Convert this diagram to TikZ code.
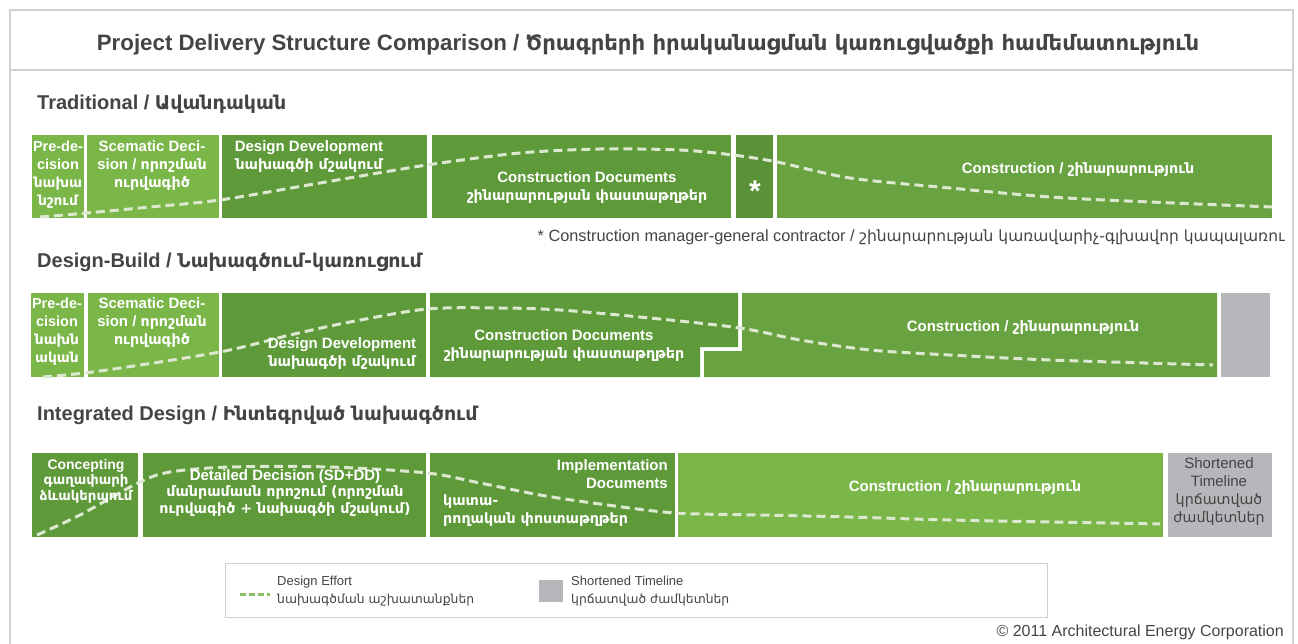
\documentclass[tikz,border=0pt]{standalone}
\usepackage{fontspec}
\setmainfont{Liberation Sans}
\newfontfamily\armfont[Scale=0.95]{DejaVu Sans}
\newcommand{\hy}[1]{{\armfont #1}}

\definecolor{lightgrn}{HTML}{7AB648}
\definecolor{darkgrn}{HTML}{5E9A3A}
\definecolor{midgrn}{HTML}{69A341}
\definecolor{stargrn}{HTML}{5A9238}
\definecolor{shortgray}{HTML}{B6B7BA}
\definecolor{headgray}{HTML}{444444}
\definecolor{framegray}{HTML}{D0D0D0}
\definecolor{effortwhite}{HTML}{DCE8CF}
\definecolor{legendgrn}{HTML}{8DC063}

\tikzset{
  bartext/.style={text=white, font=\bfseries\fontsize{15}{18}\selectfont, align=center, inner sep=0pt},
  heading/.style={anchor=west, text=headgray, font=\bfseries\fontsize{20}{24}\selectfont, inner sep=0pt},
  effortline/.style={effortwhite, line width=3pt, dash pattern=on 9pt off 5pt},
  smalltext/.style={text=headgray, font=\fontsize{13}{18}\selectfont, align=left, inner sep=0pt},
}

\begin{document}
\begin{tikzpicture}[x=1pt,y=-1pt]
    \useasboundingbox (0,0) rectangle (1298,644);

    % Frame and title
    \draw[framegray, line width=1.5pt] (10,644) -- (10,10) -- (1293,10) -- (1293,644);
    \draw[framegray, line width=2pt] (10,70) -- (1293,70);
    \node[text=headgray, font=\bfseries\fontsize{22.3}{24}\selectfont] (title) at (648,45)
        {Project Delivery Structure Comparison / \hy{Ծրագրերի իրականացման կառուցվածքի համեմատություն}};

    % Row headings
    \node[heading] (htrad) at (37,104) {Traditional / \hy{Ավանդական}};
    \node[heading] (hdb) at (37,262) {Design-Build / \hy{Նախագծում-կառուցում}};
    \node[heading] (hint) at (37,415) {Integrated Design / \hy{Ինտեգրված նախագծում}};

    % Traditional bars
    \foreach \xa/\xb/\col in {32/84/lightgrn, 87/219/lightgrn, 222/427/darkgrn, 432/731/darkgrn, 736/773/stargrn, 777/1272/midgrn}
        \fill[\col] (\xa,135) rectangle (\xb,218);

    % Design-Build bars
    \foreach \xa/\xb/\col in {31/84/lightgrn, 88/219/lightgrn, 222/426/darkgrn, 1221/1270/shortgray}
        \fill[\col] (\xa,293) rectangle (\xb,377);
    \fill[darkgrn] (430,293) -- (738,293) -- (738,347) -- (700,347) -- (700,377) -- (430,377) -- cycle;
    \fill[midgrn] (742,293) -- (1217,293) -- (1217,377) -- (704,377) -- (704,351) -- (742,351) -- cycle;

    % Integrated bars
    \foreach \xa/\xb/\col in {32/138/darkgrn, 143/426/darkgrn, 430/675/darkgrn, 678/1163/lightgrn, 1168/1272/shortgray}
        \fill[\col] (\xa,453) rectangle (\xb,537);

    % Design effort curves
    \draw[effortline] plot [smooth] coordinates {(40,217) (87,213) (150,207) (220,200) (320,183) (427,165) (520,153) (600,149) (680,150) (733,155) (777,162) (850,178) (950,188) (1050,197) (1150,202) (1272,207)};
    \draw[effortline] plot [smooth] coordinates {(43,377) (100,371) (220,352) (290,335) (350,322) (427,309) (500,308) (560,310) (650,318) (740,328) (800,340) (870,350) (950,355) (1050,360) (1213,365)};
    \draw[effortline] plot [smooth] coordinates {(37,535) (80,515) (138,483) (170,472) (230,467) (330,467) (427,473) (480,483) (540,495) (600,504) (675,513) (760,515) (850,517) (950,520) (1160,524)};

    % Traditional labels
    \node[bartext, font=\bfseries\fontsize{14.5}{18}\selectfont] (tpre) at (58,175) {Pre-de-\\cision\\\hy{նախա}\\\hy{նշում}};
    \node[bartext] (tsd) at (152,166) {Scematic Deci-\\sion / \hy{որոշման}\\\hy{ուրվագիծ}};
    \node[bartext] (tdd) at (309,157) {Design Development\\\hy{նախագծի մշակում}};
    \node[bartext] (tcd) at (587,188) {Construction Documents\\\hy{շինարարության փաստաթղթեր}};
    \node[bartext, font=\bfseries\fontsize{30}{30}\selectfont] (tstar) at (755,191) {*};
    \node[bartext] (tcon) at (1078,170) {Construction / \hy{շինարարություն}};
    \node[smalltext, anchor=east, font=\fontsize{16.3}{18}\selectfont] (tnote) at (1285,237)
        {* Construction manager-general contractor / \hy{շինարարության կառավարիչ-գլխավոր կապալառու}};

    % Design-Build labels
    \node[bartext, font=\bfseries\fontsize{14.5}{18}\selectfont] (bpre) at (57,332) {Pre-de-\\cision\\\hy{նախն}\\\hy{ական}};
    \node[bartext] (bsd) at (152,323) {Scematic Deci-\\sion / \hy{որոշման}\\\hy{ուրվագիծ}};
    \node[bartext] (bdd) at (342,354) {Design Development\\\hy{նախագծի մշակում}};
    \node[bartext] (bcd) at (564,346) {Construction Documents\\\hy{շինարարության փաստաթղթեր}};
    \node[bartext] (bcon) at (1023,328) {Construction / \hy{շինարարություն}};

    % Integrated labels
    \node[bartext, font=\bfseries\fontsize{14}{15.5}\selectfont] (icpt) at (86,481) {Concepting\\\hy{գաղափարի}\\\hy{ձևակերպում}};
    \node[bartext, font=\bfseries\fontsize{15}{16.5}\selectfont] (idd) at (285,493) {Detailed Decision (SD+DD)\\\hy{մանրամասն որոշում (որոշման}\\\hy{ուրվագիծ + նախագծի մշակում)}};
    \node[bartext, align=right, anchor=east] (iimp) at (668,474) {Implementation\\Documents};
    \node[bartext, align=left, anchor=west] (iimphy) at (443,511) {\hy{կատա-}\\\hy{րողական փոստաթղթեր}};
    \node[bartext] (icon) at (965,488) {Construction / \hy{շինարարություն}};
    \node[bartext, text=headgray, font=\fontsize{15}{18}\selectfont] (ishort) at (1219,492) {Shortened\\Timeline\\\hy{կրճատված}\\\hy{ժամկետներ}};

    % Legend
    \draw[framegray, line width=1pt] (225,563) rectangle (1047,617);
    \draw[legendgrn, line width=3pt, dash pattern=on 6pt off 3pt] (240,594) -- (270,594);
    \node[smalltext, anchor=west] (leffort) at (277,591) {Design Effort\\\hy{նախագծման աշխատանքներ}};
    \fill[shortgray] (539,580) rectangle (563,602);
    \node[smalltext, anchor=west] (lshort) at (571,591) {Shortened Timeline\\\hy{կրճատված ժամկետներ}};

    % Copyright
    \node[smalltext, anchor=east, font=\fontsize{16}{18}\selectfont] (copy) at (1284,632) {\textcopyright{} 2011 Architectural Energy Corporation};

\end{tikzpicture}
\end{document}
